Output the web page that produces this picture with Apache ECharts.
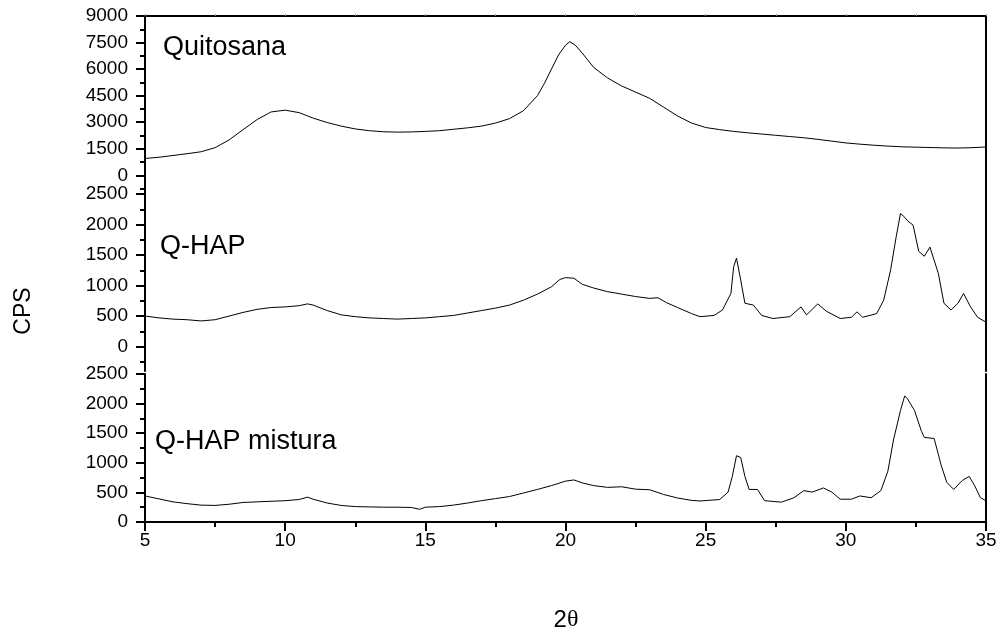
<!DOCTYPE html>
<html>
<head>
<meta charset="utf-8">
<script src="https://cdn.jsdelivr.net/npm/echarts@6/dist/echarts.min.js"></script>
<style>
  html, body { margin: 0; padding: 0; background: #fff; }
  #chart { width: 1005px; height: 635px; }
</style>
</head>
<body>
<div id="chart"></div>
<script>
// X-ray diffraction patterns: 2θ (degrees) vs counts per second
const panelNames = ['Quitosana', 'Q-HAP', 'Q-HAP mistura'];
const xTicks = [5, 10, 15, 20, 25, 30, 35];

const quitosana = [
  [5,950],[5.5,1020],[6,1120],[6.5,1220],[7,1330],[7.5,1560],[8,2000],[8.5,2580],[9,3150],
  [9.5,3580],[10,3680],[10.5,3540],[11,3230],[11.5,2980],[12,2780],[12.5,2620],[13,2520],
  [13.5,2460],[14,2440],[14.5,2450],[15,2480],[15.5,2520],[16,2600],[16.5,2680],[17,2780],
  [17.5,2950],[18,3200],[18.5,3650],[19,4500],[19.25,5200],[19.5,6000],[19.75,6800],[20,7350],
  [20.15,7550],[20.35,7350],[20.6,6900],[21,6100],[21.5,5500],[22,5050],[22.5,4700],[23,4350],
  [23.5,3850],[24,3350],[24.5,2950],[25,2700],[25.5,2580],[26,2480],[26.5,2400],[27,2330],
  [27.5,2260],[28,2190],[28.5,2120],[29,2030],[29.5,1930],[30,1830],[30.5,1760],[31,1700],
  [31.5,1650],[32,1610],[32.5,1590],[33,1570],[33.5,1550],[34,1540],[34.5,1560],[35,1600]
];

const qHap = [
  [5,500],[5.5,470],[6,450],[6.5,440],[7,420],[7.5,440],[8,500],[8.5,560],[9,610],[9.5,640],
  [10,650],[10.5,670],[10.8,700],[11,680],[11.5,590],[12,520],[12.5,490],[13,470],[13.5,460],
  [14,450],[14.5,460],[15,470],[15.5,490],[16,510],[16.5,550],[17,590],[17.5,630],[18,680],
  [18.5,760],[19,860],[19.5,980],[19.8,1100],[20,1130],[20.3,1120],[20.6,1020],[21,960],
  [21.5,900],[22,860],[22.5,820],[23,790],[23.3,800],[23.6,720],[24,640],[24.5,540],[24.8,490],
  [25.3,510],[25.6,600],[25.9,870],[26,1310],[26.1,1450],[26.25,1090],[26.4,710],[26.7,680],
  [27,510],[27.4,460],[28,490],[28.4,650],[28.6,520],[29,700],[29.3,580],[29.8,460],[30.2,480],
  [30.4,570],[30.6,480],[31.1,540],[31.35,760],[31.6,1260],[31.8,1810],[31.95,2180],[32.1,2120],
  [32.2,2060],[32.4,1990],[32.6,1560],[32.8,1480],[33,1630],[33.3,1200],[33.5,710],[33.75,600],
  [34,710],[34.2,870],[34.45,650],[34.7,480],[35,400]
];

const qHapMistura = [
  [5,440],[5.5,390],[6,340],[6.5,310],[7,285],[7.5,280],[8,300],[8.5,330],[9,340],[9.5,350],
  [10,360],[10.5,380],[10.8,420],[11,385],[11.5,320],[12,280],[12.5,260],[13,255],[13.5,250],
  [14,250],[14.5,245],[14.8,215],[15,250],[15.5,260],[16,285],[16.5,320],[17,360],[17.5,395],
  [18,430],[18.5,490],[19,550],[19.5,615],[20,690],[20.3,710],[20.6,660],[21,615],[21.5,585],
  [22,595],[22.5,555],[23,545],[23.5,465],[24,405],[24.5,365],[24.8,355],[25.5,380],[25.8,505],
  [25.95,770],[26.1,1120],[26.25,1090],[26.4,770],[26.55,550],[26.85,550],[27.1,360],[27.7,335],
  [28.15,410],[28.5,530],[28.8,505],[29.2,575],[29.5,505],[29.8,385],[30.2,385],[30.5,440],
  [30.9,410],[31.25,530],[31.5,860],[31.7,1385],[31.95,1885],[32.1,2130],[32.2,2080],[32.45,1885],
  [32.7,1530],[32.8,1430],[33.15,1410],[33.4,960],[33.6,670],[33.85,550],[34.15,700],[34.4,770],
  [34.6,610],[34.8,410],[35,360]
];

// y ranges and tick values per panel
const yRanges = [[-1000, 9000], [-400, 2500], [0, 2500]];
const yMajor = [
  [0, 1500, 3000, 4500, 6000, 7500, 9000],
  [0, 500, 1000, 1500, 2000, 2500],
  [0, 500, 1000, 1500, 2000, 2500]
];
const yMinor = [
  [-750, 750, 2250, 3750, 5250, 6750, 8250],
  [-250, 250, 750, 1250, 1750, 2250],
  [250, 750, 1250, 1750, 2250]
];

const FONT = 'Liberation Sans, Arial, Helvetica, sans-serif';
const axisLine = { show: true, onZero: false, lineStyle: { color: '#000', width: 2 } };
const plain = v => String(v);

const grids = [
  { left: 145, right: 19, top: 16, height: 177 },
  { left: 145, right: 19, top: 194, height: 177 },
  { left: 145, right: 19, top: 374, height: 148 }
];

const xAxes = [];
const yAxes = [];
grids.forEach((g, i) => {
  const last = i === grids.length - 1;
  xAxes.push({
    type: 'value', gridIndex: i, min: 5, max: 35, interval: 5, position: 'bottom',
    show: last,
    axisLine: axisLine,
    axisTick: { show: true, length: 9, lineStyle: { color: '#000', width: 2 } },
    minorTick: { show: true, splitNumber: 2, length: 5, lineStyle: { color: '#000', width: 2 } },
    axisLabel: { show: true, color: '#000', fontSize: 19, fontFamily: FONT, margin: 9,
      customValues: xTicks, formatter: plain },
    splitLine: { show: false }
  });
  yAxes.push({
    type: 'value', gridIndex: i, min: yRanges[i][0], max: yRanges[i][1], position: 'left',
    axisLine: axisLine,
    axisTick: { show: true, length: 9, customValues: yMajor[i], lineStyle: { color: '#000', width: 2 } },
    axisLabel: { show: true, color: '#000', fontSize: 19, fontFamily: FONT, margin: 17,
      customValues: yMajor[i], formatter: plain },
    splitLine: { show: false }
  });
  yAxes.push({
    type: 'value', gridIndex: i, min: yRanges[i][0], max: yRanges[i][1], position: 'left',
    axisLine: { show: false },
    axisTick: { show: true, length: 5, customValues: yMinor[i], lineStyle: { color: '#000', width: 2 } },
    axisLabel: { show: false },
    splitLine: { show: false }
  });
  yAxes.push({
    type: 'value', gridIndex: i, min: yRanges[i][0], max: yRanges[i][1], position: 'right',
    axisLine: axisLine, axisTick: { show: false }, axisLabel: { show: false },
    splitLine: { show: false }
  });
});
// frame line across the top of the first panel
xAxes.push({
  type: 'value', gridIndex: 0, min: 5, max: 35, interval: 2.5, position: 'top',
  axisLine: axisLine,
  axisTick: { show: true, length: 2, lineStyle: { color: '#999', width: 1 } },
  axisLabel: { show: false }, splitLine: { show: false }
});

const seriesData = [quitosana, qHap, qHapMistura];
const series = seriesData.map((d, i) => ({
  name: panelNames[i], type: 'line', data: d,
  xAxisIndex: i, yAxisIndex: i * 3,
  showSymbol: false, symbol: 'none', smooth: false,
  lineStyle: { color: '#000', width: 1 },
  animation: false
}));

const labelPos = [[163, 48], [160, 247], [155, 442]];
const graphics = panelNames.map((n, i) => ({
  type: 'text', x: labelPos[i][0], y: labelPos[i][1],
  style: { text: n, fill: '#000', font: '27px ' + FONT, verticalAlign: 'middle', align: 'left' }
}));
graphics.push({
  type: 'text', x: 24, y: 311, rotation: Math.PI / 2,
  style: { text: 'CPS', fill: '#000', font: '23px ' + FONT, verticalAlign: 'middle', align: 'center' }
});
graphics.push({
  type: 'text', x: 566, y: 620,
  style: {
    text: '{a|2}{b|θ}', align: 'center', verticalAlign: 'middle',
    rich: {
      a: { fontSize: 24, fontFamily: FONT, fill: '#000' },
      b: { fontSize: 24, fontFamily: 'Liberation Serif, DejaVu Serif, serif', fill: '#000' }
    }
  }
});

const chart = echarts.init(document.getElementById('chart'), null, { renderer: 'canvas' });
chart.setOption({
  backgroundColor: '#fff',
  animation: false,
  grid: grids,
  xAxis: xAxes,
  yAxis: yAxes,
  series: series,
  graphic: graphics
});
</script>
</body>
</html>
